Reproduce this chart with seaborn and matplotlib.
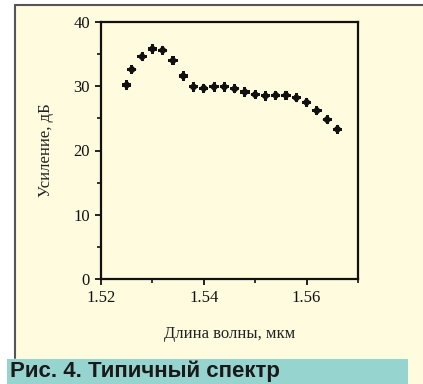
import matplotlib
matplotlib.use("Agg")
import matplotlib.pyplot as plt
from matplotlib.patches import Rectangle
from matplotlib.lines import Line2D
from matplotlib.ticker import FixedLocator, FixedFormatter
import seaborn as sns
import pandas as pd

# Длина волны, мкм
wavelength = [1.525, 1.526, 1.528, 1.530, 1.532, 1.534, 1.536, 1.538, 1.540,
              1.542, 1.544, 1.546, 1.548, 1.550, 1.552, 1.554, 1.556, 1.558,
              1.560, 1.562, 1.564, 1.566]
# Усиление, дБ
gain = [30.2, 32.6, 34.6, 35.8, 35.6, 34.0, 31.6, 29.9, 29.7, 29.9, 29.9,
        29.6, 29.1, 28.7, 28.5, 28.6, 28.6, 28.2, 27.5, 26.2, 24.8, 23.3]

x_labels = ["1.52", "1.54", "1.56"]
x_label_pos = [1.52, 1.54, 1.56]
x_minor = [1.53, 1.55, 1.57]
y_labels = ["0", "10", "20", "30", "40"]
y_label_pos = [0, 10, 20, 30, 40]
y_minor = [5, 15, 25, 35]

CREAM = "#fffbdf"
TEAL = "#96d4d0"

sns.set_style("ticks")
plt.rcParams["font.family"] = ["Liberation Serif", "DejaVu Serif"]

W, H = 423, 384
fig = plt.figure(figsize=(W / 100, H / 100), dpi=100, facecolor="white")

# фон страницы и рамка
fig.add_artist(Rectangle((15 / W, 0), 1 - 15 / W, (H - 5) / H,
                         transform=fig.transFigure, facecolor=CREAM, edgecolor="none", zorder=0))
fig.add_artist(Line2D([15 / W, 15 / W], [(H - 358) / H, (H - 5) / H],
                      transform=fig.transFigure, color="#555555", lw=1.5))
fig.add_artist(Line2D([15 / W, 1], [(H - 5) / H, (H - 5) / H],
                      transform=fig.transFigure, color="#555555", lw=1.5))
# подпись
fig.add_artist(Rectangle((7 / W, 0), (408 - 7) / W, 25 / H,
                         transform=fig.transFigure, facecolor=TEAL, edgecolor="none", zorder=1))
fig.text(10 / W, 12.5 / H, "Рис. 4. Типичный спектр", family="Liberation Sans",
         fontweight="bold", fontsize=16, color="#1a1a1a", va="center", ha="left", zorder=2)

ax = fig.add_axes([101 / W, 105 / H, 257 / W, 257 / H])
ax.set_facecolor(CREAM)

df = pd.DataFrame({"wl": wavelength, "gain": gain})
sns.scatterplot(data=df, x="wl", y="gain", ax=ax, marker="D", s=22,
                color="#111111", edgecolor="none", legend=False)
sns.scatterplot(data=df, x="wl", y="gain", ax=ax, marker="P", s=45,
                color="#111111", edgecolor="none", legend=False)

ax.set_xlim(1.52, 1.57)
ax.set_ylim(0, 40)
ax.xaxis.set_major_locator(FixedLocator(x_label_pos))
ax.xaxis.set_major_formatter(FixedFormatter(x_labels))
ax.xaxis.set_minor_locator(FixedLocator(x_minor))
ax.yaxis.set_major_locator(FixedLocator(y_label_pos))
ax.yaxis.set_major_formatter(FixedFormatter(y_labels))
ax.yaxis.set_minor_locator(FixedLocator(y_minor))

for s in ax.spines.values():
    s.set_visible(True)
    s.set_color("#111111")
    s.set_linewidth(1.6)

ax.tick_params(which="major", direction="out", length=4, width=1.3,
               labelsize=12, colors="#111111", pad=4)
ax.tick_params(which="minor", direction="out", length=3, width=1.2, colors="#111111")

ax.set_xlabel("Длина волны, мкм", fontsize=12, labelpad=14, color="#222222")
ax.set_ylabel("Усиление, дБ", fontsize=12, labelpad=14, color="#222222")

fig.savefig("out.png", dpi=100, facecolor="white")
